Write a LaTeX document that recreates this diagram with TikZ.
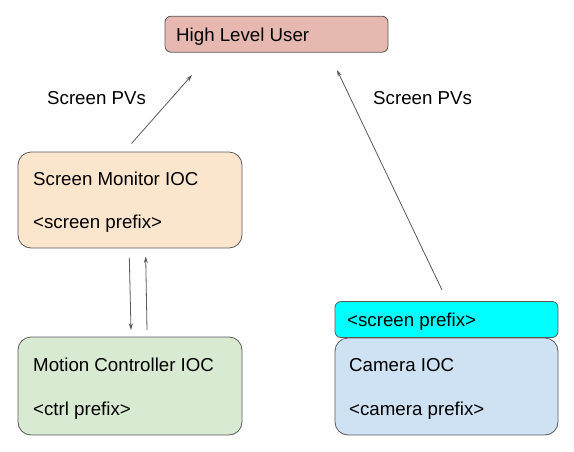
\documentclass[tikz,border=0pt]{standalone}
\usepackage{fontspec}
\setmainfont{Liberation Sans}
\usetikzlibrary{arrows.meta}
\definecolor{hlufill}{HTML}{E6B8AF}
\definecolor{smfill}{HTML}{FCE5CD}
\definecolor{mcfill}{HTML}{D9EAD3}
\definecolor{camfill}{HTML}{CFE2F3}
\definecolor{cyanfill}{HTML}{00FFFF}
\definecolor{edge}{HTML}{595959}
\begin{document}
\begin{tikzpicture}[x=1pt,y=-1pt,
  box/.style={draw=edge, line width=0.8pt, rounded corners=13pt, inner sep=0pt},
  lbl/.style={anchor=base west, inner sep=0pt, font=\fontsize{18.7}{22}\selectfont},
  conn/.style={draw=edge, line width=0.8pt, -{Stealth[length=6.5pt,width=4pt]}}]
\useasboundingbox (0,0) rectangle (574,451);
% boxes
\node[box, rounded corners=6pt, fill=hlufill, minimum width=223pt, minimum height=36pt] (hlu) at (276.5,34.2) {};
\node[box, fill=smfill, minimum width=224pt, minimum height=96pt] (sm) at (130,200) {};
\node[box, fill=mcfill, minimum width=224pt, minimum height=98pt] (mc) at (130,386) {};
\node[box, rounded corners=6pt, fill=cyanfill, minimum width=223pt, minimum height=36pt] (sp) at (446.5,319.5) {};
\node[box, fill=camfill, minimum width=223pt, minimum height=97pt] (cam) at (446.5,386.5) {};
% texts
\node[lbl] (thlu) at (176,41.2) {High Level User};
\node[lbl] (tsm1) at (33,185) {Screen Monitor IOC};
\node[lbl] (tsm2) at (33,228) {<screen prefix>};
\node[lbl] (tmc1) at (33,371.5) {Motion Controller IOC};
\node[lbl] (tmc2) at (33,415) {<ctrl prefix>};
\node[lbl] (tsp) at (347,326) {<screen prefix>};
\node[lbl] (tcam1) at (349,371) {Camera IOC};
\node[lbl] (tcam2) at (349,415) {<camera prefix>};
\node[lbl] (pv1) at (47,104) {Screen PVs};
\node[lbl] (pv2) at (373,104) {Screen PVs};
% connector ends
\coordinate (a1) at (131.5,143.5);
\coordinate (a2) at (192,75);
\coordinate (b1) at (442,290);
\coordinate (b2) at (337,70);
\coordinate (c1) at (129.3,257.5);
\coordinate (c2) at (131,330);
\coordinate (d1) at (147,330);
\coordinate (d2) at (145.7,256.5);
\draw[conn] (a1) -- (a2);
\draw[conn] (b1) -- (b2);
\draw[conn] (c1) -- (c2);
\draw[conn] (d1) -- (d2);
\end{tikzpicture}
\end{document}
